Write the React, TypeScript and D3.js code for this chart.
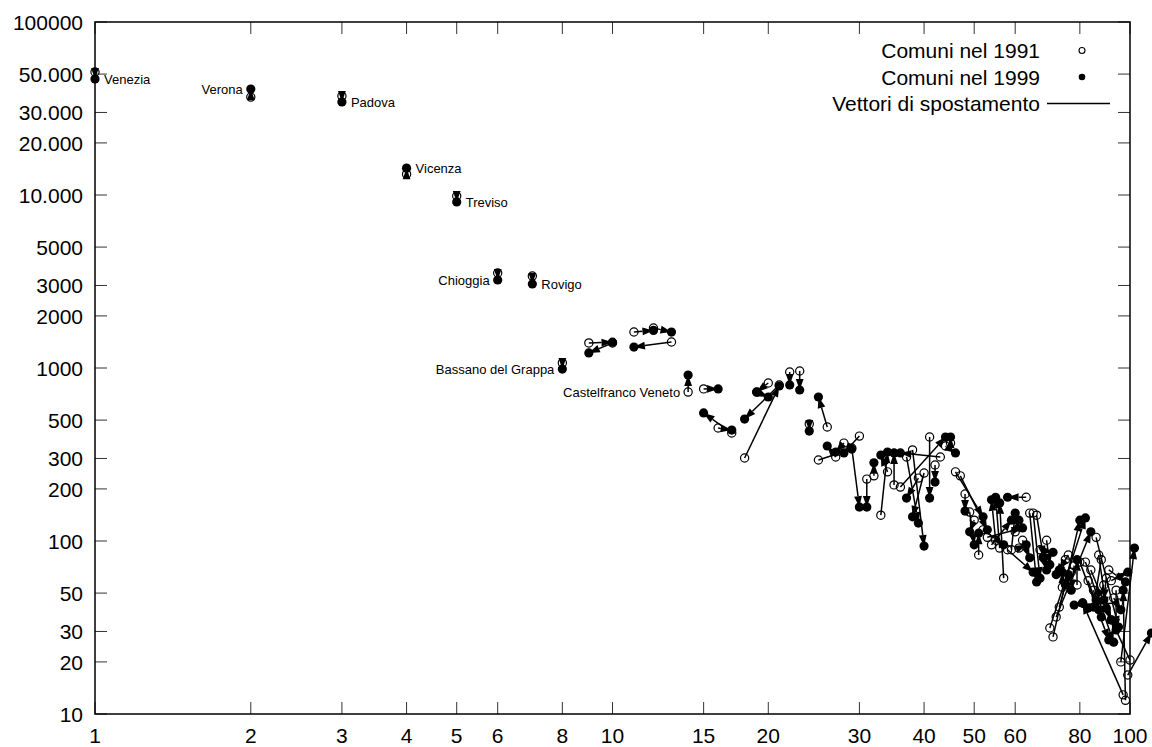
import React, { useRef, useEffect } from "react";
import * as d3 from "d3";

// each comune: rank + value in 1991 (open circle) and in 1999 (filled circle)
const rank1991 = [
    1, 2, 3, 4, 5, 6, 7, 8, 9, 10, 11, 12, 13, 14, 15, 16, 17, 18, 19, 20,
    21, 22, 23, 24, 25, 26, 27, 28, 29, 30, 31, 32, 33, 34, 35, 36, 37, 38, 39, 40,
    41, 42, 43, 44, 45, 46, 47, 48, 49, 50, 51, 52, 53, 54, 55, 56, 57, 58, 59, 60,
    61, 62, 63, 64, 65, 66, 67, 68, 69, 70, 71, 72, 73, 74, 75, 76, 77, 78, 79, 80,
    81, 82, 83, 84, 85, 86, 87, 88, 89, 90, 91, 92, 93, 94, 95, 96, 97, 98, 99, 100,
];
const value1991 = [
    51400, 36800, 37300, 13200, 9870, 3540, 3400, 1070, 1396, 1396, 1614, 1703, 1413, 726, 757, 450, 421, 302, 726, 819,
    798, 948, 961, 475, 294, 456, 306, 368, 345, 404, 228, 238, 141, 251, 211, 205, 306, 336, 231, 247,
    399, 275, 306, 354, 368, 251, 238, 187, 147, 132, 83, 116, 105, 95, 101, 91, 61, 89, 89, 113,
    91, 101, 179, 145, 145, 141, 89, 80, 101, 31.4, 27.9, 36.4, 41.5, 54, 78, 83, 66, 72, 55.7, 75.5,
    43.8, 75.5, 59, 68, 52, 105, 83, 78, 55.7, 61, 68, 59, 46.8, 52, 43.8, 20, 12.9, 12.0, 16.8, 20.5,
];
const rank1999 = [
    1, 2, 3, 4, 5, 6, 7, 8, 10, 9, 12, 13, 11, 14, 16, 17, 15, 21, 20, 19,
    18, 22, 23, 24, 29, 25, 26, 27, 30, 28, 31, 32, 34, 33, 35, 44, 39, 40, 37, 38,
    41, 42, 36, 46, 45, 52, 53, 48, 50, 49, 51, 57, 62, 59, 54, 55, 56, 65, 60, 61,
    63, 64, 58, 66, 67, 68, 71, 69, 70, 82, 80, 84, 76, 74, 72, 73, 75, 77, 79, 91,
    83, 93, 88, 92, 87, 95, 90, 85, 86, 89, 98, 99, 96, 94, 78, 102, 81, 97, 110, 92,
];
const value1999 = [
    46900, 41000, 34500, 14300, 9120, 3230, 3060, 986, 1410, 1222, 1650, 1614, 1322, 911, 757, 438, 550, 787, 680, 726,
    507, 798, 746, 432, 340, 680, 354, 327, 157, 323, 157, 283, 327, 314, 323, 399, 127, 93.5, 177, 138,
    177, 219, 323, 323, 399, 138, 116, 149, 95, 113, 111, 95, 119, 132, 173, 179, 166, 66, 145, 132,
    95, 80, 179, 58, 61, 81, 86, 68, 73, 136, 132, 113, 64, 66, 64, 68, 56, 52, 78, 26.8,
    41, 26, 36.4, 35, 40, 31.8, 41, 41.5, 45.6, 45.6, 58, 66, 40, 30.6, 42.6, 91, 43.8, 52, 29.4, 35,
];

// named comuni: label placed next to one of the two points
const labelNames = ["Venezia", "Verona", "Padova", "Vicenza", "Treviso", "Chioggia", "Rovigo", "Bassano del Grappa", "Castelfranco Veneto"];
const labelRank = [1, 2, 3, 4, 5, 6, 7, 8, 14];
const labelSide = ["right", "left", "right", "right", "right", "left", "right", "left", "left"];
const labelYear = [1999, 1999, 1999, 1999, 1999, 1999, 1999, 1999, 1991];

const xTicks = [1, 2, 3, 4, 5, 6, 8, 10, 15, 20, 30, 40, 50, 60, 80, 100];
const yTicks = [10, 20, 30, 50, 100, 200, 300, 500, 1000, 2000, 3000, 5000, 10000, 20000, 30000, 50000, 100000];
const yTickLabels = ["10", "20", "30", "50", "100", "200", "300", "500", "1000", "2000", "3000", "5000", "10.000", "20.000", "30.000", "50.000", "100000"];

const legendLabels = ["Comuni nel 1991", "Comuni nel 1999", "Vettori di spostamento"];

const dims = { width: 1152, height: 747, left: 95, right: 1130, top: 22, bottom: 714 };
const font = "'Liberation Sans', Arial, sans-serif";
const headLen = 11;
const headHalf = 3.9;

const App = () => {
    const canvas = useRef(null);

    useEffect(() => {
        const svg = d3.select(canvas.current);
        svg.selectAll("*").remove();

        const x = d3.scaleLog().domain([1, 100]).range([dims.left, dims.right]);
        const y = d3.scaleLog().domain([10, 100000]).range([dims.bottom, dims.top]);

        // ticks on all four sides, pointing inward
        const tickLen = 12;
        const ticks = svg.append("g").attr("stroke", "#333").attr("stroke-width", 1);
        xTicks.forEach((t) => {
            ticks.append("line").attr("x1", x(t)).attr("x2", x(t)).attr("y1", dims.bottom).attr("y2", dims.bottom - tickLen);
            ticks.append("line").attr("x1", x(t)).attr("x2", x(t)).attr("y1", dims.top).attr("y2", dims.top + tickLen);
        });
        yTicks.forEach((t) => {
            ticks.append("line").attr("y1", y(t)).attr("y2", y(t)).attr("x1", dims.left).attr("x2", dims.left + tickLen);
            ticks.append("line").attr("y1", y(t)).attr("y2", y(t)).attr("x1", dims.right).attr("x2", dims.right - tickLen);
        });

        svg.append("rect")
            .attr("x", dims.left)
            .attr("y", dims.top)
            .attr("width", dims.right - dims.left)
            .attr("height", dims.bottom - dims.top)
            .attr("fill", "none")
            .attr("stroke", "black")
            .attr("stroke-width", 1.5);

        // tick labels
        const labels = svg.append("g").attr("font-family", font).attr("font-size", 21).attr("fill", "black");
        xTicks.forEach((t) => {
            labels.append("text").attr("x", x(t)).attr("y", 743).attr("text-anchor", "middle").text(t);
        });
        yTicks.forEach((t, i) => {
            labels.append("text").attr("x", 83).attr("y", y(t) + 8).attr("text-anchor", "end").text(yTickLabels[i]);
        });

        const rows = rank1991.map((r, i) => ({
            x1: x(r),
            y1: y(value1991[i]),
            x2: x(rank1999[i]),
            y2: y(value1999[i]),
        }));

        // 1991 points
        svg.append("g")
            .selectAll("circle")
            .data(rows)
            .enter()
            .append("circle")
            .attr("cx", (d) => d.x1)
            .attr("cy", (d) => d.y1)
            .attr("r", 4.1)
            .attr("fill", "none")
            .attr("stroke", "black")
            .attr("stroke-width", 1.2);

        // 1999 points
        svg.append("g")
            .selectAll("circle")
            .data(rows)
            .enter()
            .append("circle")
            .attr("cx", (d) => d.x2)
            .attr("cy", (d) => d.y2)
            .attr("r", 4.6)
            .attr("fill", "black");

        // displacement vectors
        const vec = svg.append("g");
        rows.forEach((d) => {
            const dx = d.x2 - d.x1;
            const dy = d.y2 - d.y1;
            const len = Math.hypot(dx, dy);
            if (len < 0.5) return;
            const ux = dx / len;
            const uy = dy / len;
            const bx = d.x2 - ux * headLen;
            const by = d.y2 - uy * headLen;
            vec.append("line")
                .attr("x1", d.x1)
                .attr("y1", d.y1)
                .attr("x2", len > headLen ? bx : d.x2)
                .attr("y2", len > headLen ? by : d.y2)
                .attr("stroke", "black")
                .attr("stroke-width", 1.5);
            vec.append("polygon")
                .attr("points", [
                    [d.x2, d.y2],
                    [bx - uy * headHalf, by + ux * headHalf],
                    [bx + uy * headHalf, by - ux * headHalf],
                ].map((p) => p.join(",")).join(" "))
                .attr("fill", "black");
        });

        // comune names
        const names = svg.append("g").attr("font-family", font).attr("font-size", 13).attr("fill", "black");
        labelNames.forEach((name, i) => {
            const k = rank1991.indexOf(labelRank[i]);
            const px = labelYear[i] === 1991 ? rows[k].x1 : rows[k].x2;
            const py = labelYear[i] === 1991 ? rows[k].y1 : rows[k].y2;
            names.append("text")
                .attr("x", labelSide[i] === "right" ? px + 9 : px - 8)
                .attr("y", py + 5)
                .attr("text-anchor", labelSide[i] === "right" ? "start" : "end")
                .text(name);
        });

        // legend
        const legend = svg.append("g").attr("font-family", font).attr("font-size", 21);
        const rowY = [50.5, 77, 103.5];
        legendLabels.forEach((lab, i) => {
            legend.append("text").attr("x", 1040).attr("y", rowY[i] + 7.5).attr("text-anchor", "end").text(lab);
        });
        legend.append("circle").attr("cx", 1082).attr("cy", rowY[0]).attr("r", 3).attr("fill", "none").attr("stroke", "black").attr("stroke-width", 1.1);
        legend.append("circle").attr("cx", 1082).attr("cy", rowY[1]).attr("r", 3.3).attr("fill", "black");
        legend.append("line").attr("x1", 1047).attr("x2", 1110).attr("y1", rowY[2]).attr("y2", rowY[2]).attr("stroke", "black").attr("stroke-width", 1.5);
    }, []);

    return (
        <svg
            ref={canvas}
            width={dims.width}
            height={dims.height}
            style={{ position: "absolute", left: 0, top: 0, background: "white" }}
        />
    );
};

export default App;
